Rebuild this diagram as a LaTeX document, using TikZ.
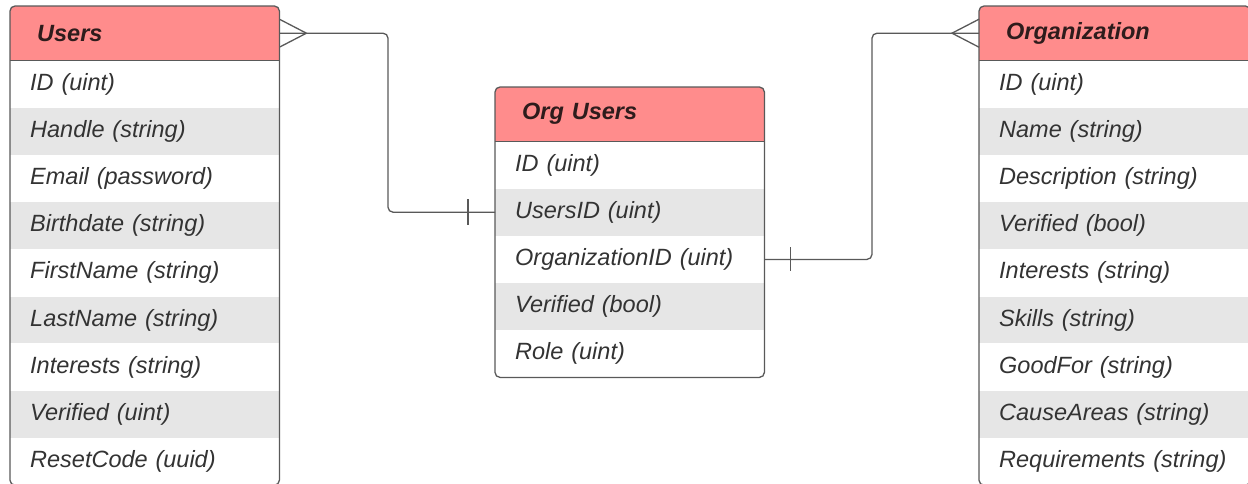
\documentclass[tikz,border=0pt]{standalone}
\usepackage{fontspec}
\setmainfont{Liberation Sans}
\definecolor{hdr}{HTML}{FF8C8C}
\definecolor{alt}{HTML}{E6E6E6}
\definecolor{ink}{HTML}{333333}
\definecolor{hink}{HTML}{2E1C1C}
\definecolor{edge}{HTML}{595959}
\tikzset{
 cell/.style={anchor=north west, inner xsep=20pt, inner ysep=0pt, text width=229pt, minimum height=46.8pt, align=left, font=\fontsize{23.5}{28}\selectfont\itshape, text=ink},
 oddrow/.style={cell, fill=white},
 evenrow/.style={cell, fill=alt},
 hdrcell/.style={cell, minimum height=54pt, fill=hdr, text=hink, font=\fontsize{23.5}{28}\selectfont\bfseries\itshape},
 wide/.style={text width=231pt},
 tbl/.style={draw=edge, line width=1.3pt, rounded corners=5pt},
 conn/.style={draw=edge, line width=1.3pt},
}
\begin{document}
\begin{tikzpicture}[x=1pt,y=-1pt]
\useasboundingbox (0,0) rectangle (1248,484);
% Users
\begin{scope}
\clip[rounded corners=5pt] (10,6) rectangle (279,481.2);
\node[hdrcell] (uh) at (10,6) {\hspace*{7pt}Users};
\node[oddrow] (u1) at (uh.south west) {ID (uint)};
\node[evenrow] (u2) at (u1.south west) {Handle (string)};
\node[oddrow] (u3) at (u2.south west) {Email (password)};
\node[evenrow] (u4) at (u3.south west) {Birthdate (string)};
\node[oddrow] (u5) at (u4.south west) {FirstName (string)};
\node[evenrow] (u6) at (u5.south west) {LastName (string)};
\node[oddrow] (u7) at (u6.south west) {Interests (string)};
\node[evenrow] (u8) at (u7.south west) {Verified (uint)};
\node[oddrow] (u9) at (u8.south west) {ResetCode (uuid)};
\end{scope}
\draw[tbl] (uh.north west) rectangle (u9.south east);
\draw[conn] (uh.south west) -- (uh.south east);
% Org Users
\begin{scope}
\clip[rounded corners=5pt] (495,87) rectangle (764,375);
\node[hdrcell] (oh2) at (495,87) {\hspace*{7pt}Org Users};
\node[oddrow] (ou1) at (oh2.south west) {ID (uint)};
\node[evenrow] (ou2) at (ou1.south west) {UsersID (uint)};
\node[oddrow] (ou3) at (ou2.south west) {OrganizationID (uint)};
\node[evenrow] (ou4) at (ou3.south west) {Verified (bool)};
\node[oddrow] (ou5) at (ou4.south west) {Role (uint)};
\end{scope}
\draw[tbl] (oh2.north west) rectangle (ou5.south east);
\draw[conn] (oh2.south west) -- (oh2.south east);
% Organization
\begin{scope}
\clip[rounded corners=5pt] (979,6) rectangle (1250,481.2);
\node[hdrcell,wide] (oh) at (979,6) {\hspace*{7pt}Organization};
\node[oddrow,wide] (o1) at (oh.south west) {ID (uint)};
\node[evenrow,wide] (o2) at (o1.south west) {Name (string)};
\node[oddrow,wide] (o3) at (o2.south west) {Description (string)};
\node[evenrow,wide] (o4) at (o3.south west) {Verified (bool)};
\node[oddrow,wide] (o5) at (o4.south west) {Interests (string)};
\node[evenrow,wide] (o6) at (o5.south west) {Skills (string)};
\node[oddrow,wide] (o7) at (o6.south west) {GoodFor (string)};
\node[evenrow,wide] (o8) at (o7.south west) {CauseAreas (string)};
\node[oddrow,wide] (o9) at (o8.south west) {Requirements (string)};
\end{scope}
\draw[tbl] (oh.north west) rectangle (o9.south east);
\draw[conn] (oh.south west) -- (oh.south east);
% connectors
\coordinate (j1) at (388,120);
\draw[conn, rounded corners=5pt] (uh.east) -| (j1) |- (ou2.west);
\draw[conn] (uh.east) ++(0,-14) -- ++(27,14) -- ++(-27,14);
\draw[conn] (ou2.west) ++(-27,-13) -- ++(0,26);
\coordinate (j2) at (872,150);
\draw[conn, rounded corners=5pt] (ou3.east) -| (j2) |- (oh.west);
\draw[conn] (oh.west) ++(0,-14) -- ++(-27,14) -- ++(27,14);
\draw[conn] (ou3.east) ++(26,-12) -- ++(0,24);
\end{tikzpicture}
\end{document}
